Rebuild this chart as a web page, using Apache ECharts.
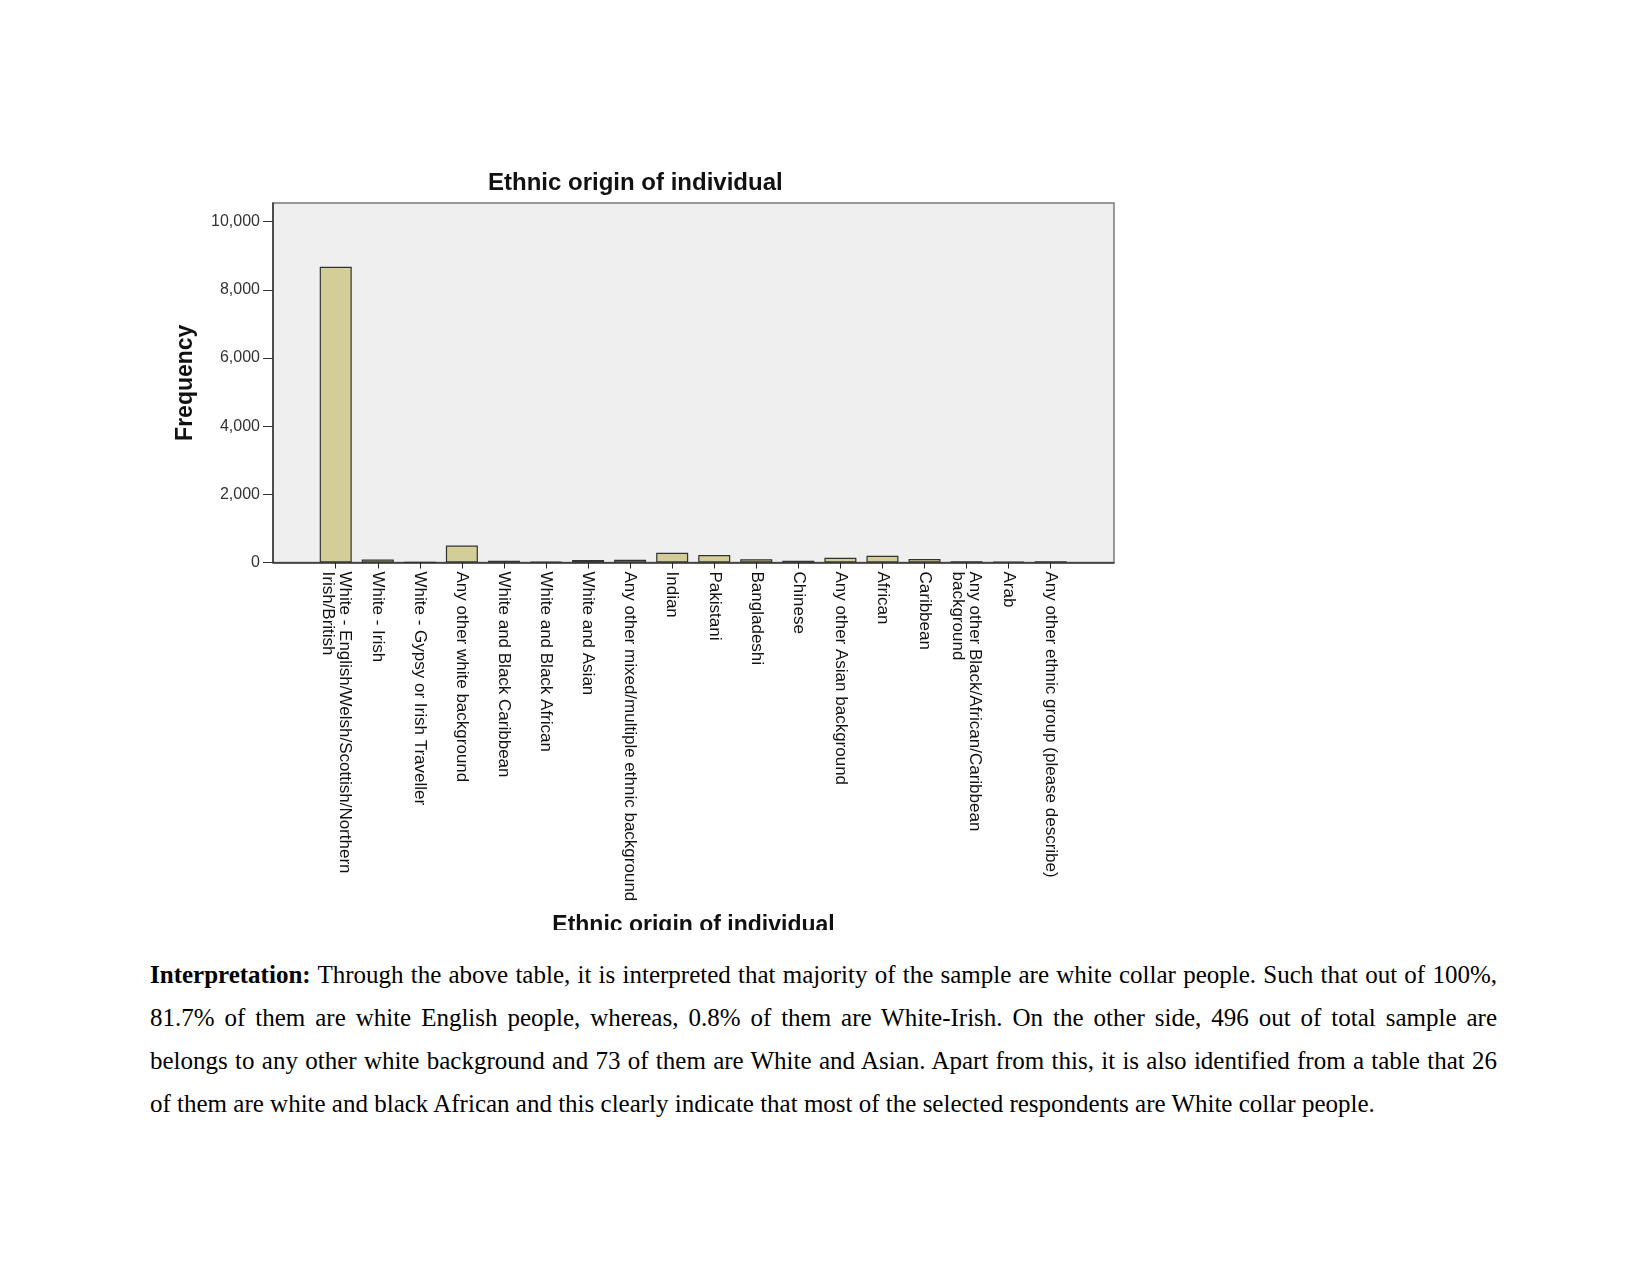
<!DOCTYPE html>
<html>
<head>
<meta charset="utf-8">
<script src="https://cdn.jsdelivr.net/npm/echarts@6/dist/echarts.min.js"></script>
<style>
  html, body { margin: 0; padding: 0; background: #ffffff; }
  body { width: 1651px; height: 1275px; position: relative; overflow: hidden; }
  #chart { position: absolute; left: 0; top: 0; width: 1651px; height: 930px; }
  #txt {
    position: absolute; left: 150px; top: 953px; width: 1347px; margin: 0;
    font-family: "Liberation Serif", "Times New Roman", serif; font-size: 25px;
    line-height: 43px; text-align: justify; color: #000;
  }
</style>
</head>
<body>
<div id="chart"></div>
<p id="txt"><b>Interpretation:</b> Through the above table, it is interpreted that majority of the sample are white collar people. Such that out of 100%, 81.7% of them are white English people, whereas, 0.8% of them are White-Irish. On the other side, 496 out of total sample are belongs to any other white background and 73 of them are White and Asian. Apart from this, it is also identified from a table that 26 of them are white and black African and this clearly indicate that most of the selected respondents are White collar people.</p>
<script>
const chartTitle = 'Ethnic origin of individual';
const xAxisName = 'Ethnic origin of individual';
const yAxisName = 'Frequency';
const categories = [
  'White - English/Welsh/Scottish/Northern\nIrish/British',
  'White - Irish',
  'White - Gypsy or Irish Traveller',
  'Any other white background',
  'White and Black Caribbean',
  'White and Black African',
  'White and Asian',
  'Any other mixed/multiple ethnic background',
  'Indian',
  'Pakistani',
  'Bangladeshi',
  'Chinese',
  'Any other Asian background',
  'African',
  'Caribbean',
  'Any other Black/African/Caribbean\nbackground',
  'Arab',
  'Any other ethnic group (please describe)'
];
const frequency = [8680, 85, 2, 496, 50, 26, 73, 82, 287, 220, 94, 50, 140, 200, 100, 40, 30, 40];
const yTickMax = 10000;
const yTickStep = 2000;

const chart = echarts.init(document.getElementById('chart'), null, { renderer: 'canvas' });
const font = '"Liberation Sans", Arial, sans-serif';

chart.setOption({
  animation: false,
  backgroundColor: '#ffffff',
  title: {
    text: chartTitle,
    left: 488, top: 171, padding: 0,
    textStyle: { fontFamily: font, fontSize: 24, fontWeight: 'bold', color: '#111' }
  },
  grid: [
    { left: 273, top: 203, width: 841, height: 359.5, show: true, containLabel: false,
      outerBoundsMode: 'none',
      backgroundColor: '#efefef', borderColor: '#7a7a7a', borderWidth: 1.5 },
    { left: 314.7, top: 221.7, width: 757, height: 340.8, containLabel: false,
      outerBoundsMode: 'none' }
  ],
  xAxis: [
    { gridIndex: 0, type: 'value', min: 0, max: 1,
      axisLine: { show: true, lineStyle: { color: '#333', width: 1.5 } },
      axisTick: { show: false }, axisLabel: { show: false }, splitLine: { show: false },
      name: xAxisName, nameLocation: 'middle', nameGap: 352,
      nameTextStyle: { fontFamily: font, fontSize: 23, fontWeight: 'bold', color: '#111' } },
    { gridIndex: 1, type: 'category', data: categories,
      axisLine: { show: false },
      axisTick: { show: true, alignWithLabel: true, length: 6, lineStyle: { color: '#222' } },
      axisLabel: { interval: 0, rotate: -90, margin: 9,
        fontFamily: font, fontSize: 17, color: '#111', lineHeight: 17 } }
  ],
  yAxis: [
    { gridIndex: 0, type: 'value', min: 0, max: 1,
      axisLine: { show: true, lineStyle: { color: '#333', width: 1.5 } },
      axisTick: { show: false }, axisLabel: { show: false }, splitLine: { show: false },
      name: yAxisName, nameLocation: 'middle', nameGap: 76, nameRotate: 90,
      nameTextStyle: { fontFamily: font, fontSize: 23, fontWeight: 'bold', color: '#111' } },
    { gridIndex: 1, type: 'value', min: 0, max: yTickMax, interval: yTickStep, offset: 41.7,
      axisLine: { show: false },
      axisTick: { show: true, length: 10, lineStyle: { color: '#333' } },
      splitLine: { show: false },
      axisLabel: { margin: 13, fontFamily: font, fontSize: 16, color: '#333',
        formatter: v => v.toLocaleString('en-US') } }
  ],
  series: [{
    type: 'bar', xAxisIndex: 1, yAxisIndex: 1,
    data: frequency, barWidth: 32,
    itemStyle: { color: '#d3ce97', borderColor: '#333', borderWidth: 1.2 }
  }]
});
</script>
</body>
</html>
